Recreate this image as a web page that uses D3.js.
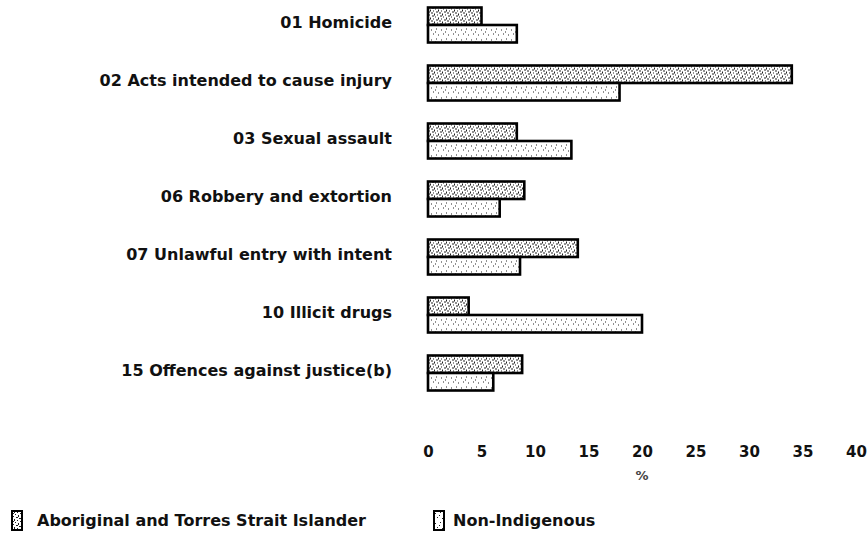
<!DOCTYPE html>
<html>
<head>
<meta charset="utf-8">
<script src="https://cdn.jsdelivr.net/npm/d3@7/dist/d3.min.js"></script>
<style>
  html, body { margin: 0; padding: 0; background: #fff; }
  svg { display: block; font-family: "DejaVu Sans", Verdana, sans-serif; }
</style>
</head>
<body>
<svg id="chart" width="868" height="542"></svg>
<script>
const categories = [
  "01 Homicide",
  "02 Acts intended to cause injury",
  "03 Sexual assault",
  "06 Robbery and extortion",
  "07 Unlawful entry with intent",
  "10 Illicit drugs",
  "15 Offences against justice(b)"
];
const seriesNames = ["Aboriginal and Torres Strait Islander", "Non-Indigenous"];
const aboriginal    = [5.0, 34.0, 8.3, 9.0, 14.0, 3.8, 8.8];
const nonIndigenous = [8.3, 17.9, 13.4, 6.7, 8.6, 20.0, 6.1];
const xTicks = [0, 5, 10, 15, 20, 25, 30, 35, 40];
const xTitle = "%";

const svg = d3.select("#chart");
const defs = svg.append("defs");

// speckled fills mimicking the scanned texture
function speckle(id, size, dots) {
  const p = defs.append("pattern").attr("id", id).attr("patternUnits", "userSpaceOnUse")
    .attr("width", size).attr("height", size);
  p.append("rect").attr("width", size).attr("height", size).attr("fill", "#fff");
  dots.forEach(d => p.append("rect").attr("x", d[0]).attr("y", d[1])
    .attr("width", d[2] || 1).attr("height", d[3] || 1).attr("fill", "#222"));
}
speckle("patAb", 8, [[0,0,2,1],[3,1],[6,2,1,2],[1,3],[4,4,2,1],[7,5],[2,6,1,2],[5,7],[0,5]]);
speckle("patNi", 10, [[1,2],[6,1],[3,6],[8,7],[5,4]]);

const x = d3.scaleLinear().domain([0, 40]).range([428, 856]);
const y = d3.scaleBand().domain(categories).range([-4, 402]).padding(0);
const groupH = 35;
const ySub = d3.scaleBand().domain(["ab", "ni"]).range([0, groupH]).padding(0);

const rows = categories.map((c, i) => ({ cat: c, ab: aboriginal[i], ni: nonIndigenous[i] }));

const g = svg.append("g").selectAll("g.row").data(rows).join("g")
  .attr("transform", d => `translate(0,${y(d.cat) + (y.bandwidth() - groupH) / 2})`);

g.append("rect")
  .attr("x", x(0)).attr("y", ySub("ab"))
  .attr("width", d => x(d.ab) - x(0)).attr("height", ySub.bandwidth())
  .attr("fill", "url(#patAb)").attr("stroke", "#000").attr("stroke-width", 2.6);

g.append("rect")
  .attr("x", x(0)).attr("y", ySub("ni"))
  .attr("width", d => x(d.ni) - x(0)).attr("height", ySub.bandwidth())
  .attr("fill", "url(#patNi)").attr("stroke", "#000").attr("stroke-width", 2.6);

// category labels
svg.append("g").selectAll("text").data(categories).join("text")
  .attr("x", 392)
  .attr("y", d => y(d) + y.bandwidth() / 2 - 2)
  .attr("text-anchor", "end")
  .attr("dominant-baseline", "middle")
  .attr("font-size", 16).attr("font-weight", "bold").attr("fill", "#111")
  .text(d => d);

// x axis
const xAxis = d3.axisBottom(x).tickValues(xTicks).tickSize(0).tickPadding(0).tickFormat(d3.format("d"));
const ax = svg.append("g").attr("transform", "translate(0,452)").call(xAxis);
ax.select(".domain").remove();
ax.selectAll("text").attr("font-size", 15).attr("font-weight", "bold").attr("fill", "#111")
  .attr("font-family", "DejaVu Sans, Verdana, sans-serif")
  .attr("dy", null).attr("y", 0).attr("dominant-baseline", "middle");

svg.append("text").attr("x", x(20)).attr("y", 476).attr("text-anchor", "middle")
  .attr("dominant-baseline", "middle").attr("font-size", 13).attr("font-weight", "bold")
  .attr("fill", "#444").text(xTitle);

// legend
const legendX = [12, 434];
const leg = svg.append("g").selectAll("g").data(seriesNames).join("g")
  .attr("transform", (d, i) => `translate(${legendX[i]},521)`);
leg.append("rect").attr("x", 0).attr("y", -10).attr("width", 10).attr("height", 19)
  .attr("fill", (d, i) => i === 0 ? "url(#patAb)" : "url(#patNi)")
  .attr("stroke", "#000").attr("stroke-width", 2);
leg.append("text").attr("x", (d, i) => i === 0 ? 25 : 19).attr("y", 0).attr("dominant-baseline", "middle")
  .attr("font-size", 16).attr("font-weight", "bold").attr("fill", "#111").text(d => d);
</script>
</body>
</html>
